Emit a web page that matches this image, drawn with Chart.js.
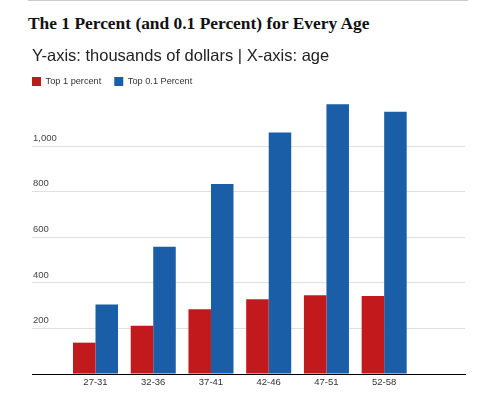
<!DOCTYPE html>
<html lang="en">
<head>
    <meta charset="UTF-8">
    <title>The 1 Percent (and 0.1 Percent) for Every Age</title>
    <script src="https://cdn.jsdelivr.net/npm/chart.js"></script>
    <style>
        html, body { margin: 0; padding: 0; background: #fff; overflow: hidden; }
        #rule { position: absolute; left: 28px; top: 0; width: 440px; height: 1px; background: #ccc; }
        h1 { position: absolute; left: 28px; top: 13px; margin: 0; font: bold 17.4px "Liberation Serif", serif; color: #111; white-space: nowrap; }
        #wrap { position: absolute; left: 0; top: 0; width: 485px; height: 394px; }
    </style>
</head>
<body>
    <div id="rule"></div>
    <h1>The 1 Percent (and 0.1 Percent) for Every Age</h1>
    <div id="wrap"><canvas id="ageChart"></canvas></div>

    <script>
        const ageGroups = ['27-31', '32-36', '37-41', '42-46', '47-51', '52-58'];
        const top1Percent = [138, 212, 285, 329, 346, 343];
        const top01Percent = [305, 559, 834, 1060, 1185, 1152];
        const yTicks = [0, 200, 400, 600, 800, 1000];

        const toPoints = values => values.map((y, x) => ({x, y}));

        // legend sits a bit higher and further left than the library puts it
        const legendShift = {
            id: 'legendShift',
            afterLayout: chart => {
                chart.legend.left -= 13;
                chart.legend.top -= 7;
            }
        };

        new Chart(document.getElementById('ageChart'), {
            type: 'bar',
            plugins: [legendShift],
            data: {
                datasets: [
                    { label: 'Top 1 percent', data: toPoints(top1Percent), backgroundColor: '#c21a1c' },
                    { label: 'Top 0.1 Percent', data: toPoints(top01Percent), backgroundColor: '#1b5ea8' }
                ]
            },
            options: {
                responsive: true,
                maintainAspectRatio: false,
                animation: false,
                layout: { padding: { left: 32, right: 20, top: 0, bottom: 2.5 } },
                plugins: {
                    tooltip: { enabled: false },
                    title: {
                        display: true,
                        text: 'Y-axis: thousands of dollars | X-axis: age',
                        align: 'start',
                        color: '#222',
                        font: { family: '"Liberation Sans", sans-serif', size: 16.5, weight: 'normal' },
                        padding: { top: 47, bottom: 4 }
                    },
                    legend: {
                        align: 'start',
                        labels: {
                            boxWidth: 9,
                            boxHeight: 9,
                            color: '#333',
                            font: { family: '"Liberation Sans", sans-serif', size: 9.2 },
                            padding: 13
                        }
                    }
                },
                datasets: { bar: { barPercentage: 1, categoryPercentage: 0.78 } },
                scales: {
                    x: {
                        type: 'linear',
                        offset: false,
                        min: -1.10,
                        max: 6.40,
                        grid: { display: false, drawTicks: false },
                        border: { color: '#000', width: 1 },
                        afterBuildTicks: scale => { scale.ticks = ageGroups.map((_, i) => ({value: i})); },
                        ticks: {
                            autoSkip: false,
                            maxRotation: 0,
                            color: '#333',
                            padding: 3,
                            font: { family: '"Liberation Sans", sans-serif', size: 9.5 },
                            callback: value => ageGroups[value]
                        }
                    },
                    y: {
                        min: 0,
                        max: 1190,
                        grid: { color: '#e0e0e0', drawTicks: false },
                        border: { display: false },
                        afterBuildTicks: scale => { scale.ticks = yTicks.map(value => ({value})); },
                        afterFit: scale => { scale.width = 0; },
                        ticks: {
                            mirror: true,
                            padding: 1,
                            labelOffset: -8,
                            color: '#444',
                            font: { family: '"Liberation Sans", sans-serif', size: 9.5 },
                            callback: value => value === 0 ? '' : value.toLocaleString('en-US')
                        }
                    }
                }
            }
        });
    </script>
</body>
</html>
